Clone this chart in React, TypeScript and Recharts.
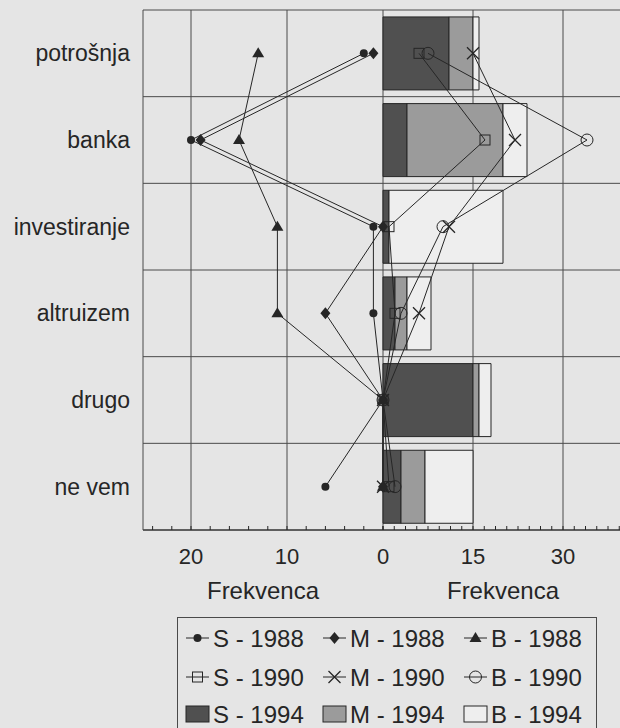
import React from 'react';
import { ComposedChart, Bar, Line, XAxis, YAxis, CartesianGrid } from 'recharts';

// answer categories (frequencies)
const categories = ['potrošnja', 'banka', 'investiranje', 'altruizem', 'drugo', 'ne vem'];

// 1988 - left panel, reversed axis
const s1988 = [2, 20, 1, 1, 0, 6];
const m1988 = [1, 19, 0, 6, 0, 0];
const b1988 = [13, 15, 11, 11, 0, 0];

// 1990 - lines in the right panel
const s1990 = [6, 17, 1, 2, 0, 1];
const m1990 = [15, 22, 11, 6, 0, 0];
const b1990 = [7.5, 34, 10, 3, 0, 2];

// 1994 - stacked bars in the right panel
const s1994 = [11, 4, 1, 2, 15, 3];
const m1994 = [4, 16, 0, 2, 1, 4];
const b1994 = [1, 4, 19, 4, 2, 8];

const leftLabels = [0, 10, 20];
const rightLabels = [15, 30];
const leftGrid = [10, 20];
const rightGrid = [0, 15, 30];

const legendLabels = [
  ['S - 1988', 'M - 1988', 'B - 1988'],
  ['S - 1990', 'M - 1990', 'B - 1990'],
  ['S - 1994', 'M - 1994', 'B - 1994'],
];

// minor tick marks on the frequency axes
const leftTicks = Array.from({ length: 13 }, (_, i) => i * 2);
const rightTicks = Array.from({ length: 22 }, (_, i) => (i * 15) / 8);

const data = categories.map((name, i) => ({
  name,
  s1988: s1988[i],
  m1988: m1988[i],
  b1988: b1988[i],
  s1990: s1990[i],
  m1990: m1990[i],
  b1990: b1990[i],
  s1994: s1994[i],
  m1994: m1994[i],
  b1994: b1994[i],
}));

const FONT = '"Liberation Sans", Arial, Helvetica, sans-serif';
const BG = '#e5e5e5';
const INK = '#262626';
const GRID = '#4a4a4a';
const DARK = '#505050';
const MID = '#9b9b9b';
const LIGHT = '#eeeeee';

type Shape = 'circle' | 'diamond' | 'triangle' | 'square' | 'cross' | 'ring';

const marker = (shape: Shape, cx: number, cy: number, key?: string) => {
  switch (shape) {
    case 'circle':
      return <circle key={key} cx={cx} cy={cy} r={4} fill={INK} />;
    case 'diamond':
      return <path key={key} d={`M${cx},${cy - 6}L${cx + 5},${cy}L${cx},${cy + 6}L${cx - 5},${cy}Z`} fill={INK} />;
    case 'triangle':
      return <path key={key} d={`M${cx},${cy - 6}L${cx + 6},${cy + 4}L${cx - 6},${cy + 4}Z`} fill={INK} />;
    case 'square':
      return <rect key={key} x={cx - 5} y={cy - 5} width={10} height={10} fill="none" stroke={INK} strokeWidth={1} />;
    case 'cross':
      return (
        <path key={key} d={`M${cx - 6},${cy - 6}L${cx + 6},${cy + 6}M${cx + 6},${cy - 6}L${cx - 6},${cy + 6}`} stroke={INK} strokeWidth={1.3} fill="none" />
      );
    default:
      return <circle key={key} cx={cx} cy={cy} r={6} fill="none" stroke={INK} strokeWidth={1} />;
  }
};

const dotOf = (shape: Shape) => (p: any) => marker(shape, p.cx, p.cy, `${p.dataKey}-${p.index}`);

// horizontal lines on the category borders, not on the category centres
const bandLines = ({ offset }: any) => {
  const step = offset.height / categories.length;
  return [...categories.map((_, i) => offset.top + i * step), offset.top + offset.height];
};

const axisTick = (labels: number[]) => (props: any) => {
  const { x, y, payload } = props;
  return (
    <text x={x} y={y} dy="0.71em" textAnchor="middle" fontSize={22} fill={INK} fontFamily={FONT}>
      {labels.includes(payload.value) ? payload.value : ''}
    </text>
  );
};

const axisTitle = { value: 'Frekvenca', position: 'insideBottom' as const, offset: 11, fontSize: 24, fill: INK, fontFamily: FONT };

const lineProps = { stroke: INK, strokeWidth: 1, isAnimationActive: false, activeDot: false as const };

const Legend = () => {
  const shapes: Shape[][] = [
    ['circle', 'diamond', 'triangle'],
    ['square', 'cross', 'ring'],
  ];
  const swatches = [DARK, MID, LIGHT];
  const colX = [8, 145, 286];
  const rowY = [20, 59, 96];
  return (
    <svg width={418} height={120} style={{ position: 'absolute', left: 177, top: 617, border: `1px solid ${GRID}` }}>
      {legendLabels.map((row, r) =>
        row.map((label, c) => {
          const x = colX[c];
          const y = rowY[r];
          return (
            <g key={label}>
              {r < 2 ? (
                <g>
                  <line x1={x} x2={x + 23} y1={y} y2={y} stroke={INK} strokeWidth={1} />
                  {marker(shapes[r][c], x + 11.5, y)}
                </g>
              ) : (
                <rect x={x} y={y - 8} width={23} height={16} fill={swatches[c]} stroke={INK} strokeWidth={1} />
              )}
              <text x={x + 27} y={y + 8.6} fontSize={24} fill={INK} fontFamily={FONT}>
                {label}
              </text>
            </g>
          );
        })
      )}
    </svg>
  );
};

export default function App() {
  return (
    <div style={{ position: 'absolute', left: 0, top: 0, width: 620, height: 728, overflow: 'hidden', background: BG, fontFamily: FONT }}>
      {/* right panel: 1990 lines over 1994 bars */}
      <div style={{ position: 'absolute', left: 371, top: 0 }}>
        <ComposedChart width={252} height={610} data={data} layout="vertical" barCategoryGap="8%" margin={{ top: 10, right: 0, bottom: 0, left: 12 }}>
          <CartesianGrid stroke={GRID} horizontalCoordinatesGenerator={bandLines} verticalValues={rightGrid} />
          <XAxis
            type="number"
            domain={[0, 40]}
            ticks={rightTicks}
            interval={0}
            tickSize={-4}
            tickMargin={22}
            tickLine={{ stroke: INK }}
            axisLine={{ stroke: INK }}
            tick={axisTick(rightLabels)}
            height={80}
            label={axisTitle}
          />
          <YAxis type="category" dataKey="name" scale="band" hide />
          <Bar dataKey="s1994" stackId="a" fill={DARK} stroke={INK} strokeWidth={1} isAnimationActive={false} />
          <Bar dataKey="m1994" stackId="a" fill={MID} stroke={INK} strokeWidth={1} isAnimationActive={false} />
          <Bar dataKey="b1994" stackId="a" fill={LIGHT} stroke={INK} strokeWidth={1} isAnimationActive={false} />
          <Line dataKey="s1990" dot={dotOf('square')} {...lineProps} />
          <Line dataKey="m1990" dot={dotOf('cross')} {...lineProps} />
          <Line dataKey="b1990" dot={dotOf('ring')} {...lineProps} />
        </ComposedChart>
      </div>

      {/* left panel: 1988, axis runs right to left */}
      <div style={{ position: 'absolute', left: 0, top: 0 }}>
        <ComposedChart width={395} height={610} data={data} layout="vertical" margin={{ top: 10, right: 12, bottom: 0, left: 0 }}>
          <CartesianGrid stroke={GRID} horizontalCoordinatesGenerator={bandLines} verticalValues={leftGrid} />
          <XAxis
            type="number"
            domain={[0, 25]}
            reversed
            ticks={leftTicks}
            interval={0}
            tickSize={-4}
            tickMargin={22}
            tickLine={{ stroke: INK }}
            axisLine={{ stroke: INK }}
            tick={axisTick(leftLabels)}
            height={80}
            label={axisTitle}
          />
          <YAxis
            type="category"
            dataKey="name"
            scale="band"
            width={143}
            tickLine={false}
            tickSize={0}
            tickMargin={13}
            axisLine={{ stroke: GRID }}
            tick={{ fontSize: 23, fill: INK, fontFamily: FONT }}
          />
          <Line dataKey="s1988" dot={dotOf('circle')} {...lineProps} />
          <Line dataKey="m1988" dot={dotOf('diamond')} {...lineProps} />
          <Line dataKey="b1988" dot={dotOf('triangle')} {...lineProps} />
        </ComposedChart>
      </div>

      <Legend />
    </div>
  );
}
